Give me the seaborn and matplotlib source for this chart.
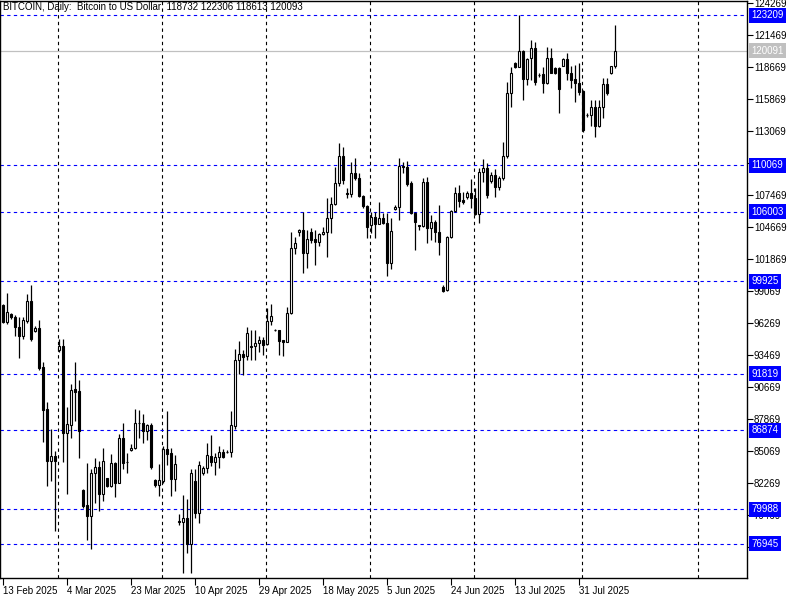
import numpy as np
import pandas as pd
import matplotlib
matplotlib.use("Agg")
import matplotlib.pyplot as plt
import seaborn as sns

# Daily candles (bar 0 = 13 Feb 2025)
opens = [97844, 96383, 97057, 96820, 95893, 95158, 96470, 98168, 95596, 95832,
         92393, 88744, 84220, 84632, 93907, 94257, 86618, 87371, 90494, 90319,
         81657, 80318, 79409, 83118, 83643, 81333, 82677, 82033, 84020, 82296,
         86180, 84131, 85130, 85306, 87494, 87494, 86845, 87318, 82532, 82120,
         82471, 85218, 84868, 82646, 78880, 78880, 79177, 76932, 82418, 79620,
         83118, 83556, 84658, 84131, 84516, 85007, 84980, 84955, 87283, 93032,
         93557, 93408, 94300, 94283, 94493, 94782, 94432, 96470, 95700, 95657,
         94782, 94633, 97118, 102806, 104205, 104407, 102421, 104258, 103620, 103331,
         104030, 104205, 105431, 106682, 108493, 110882, 107630, 107530, 109368, 108930,
         107408, 106507, 104845, 105518, 104932, 105431, 104993, 101546, 106218, 106393,
         110007, 109893, 108493, 105920, 104800, 104780, 108581, 104556, 105080, 104258,
         99395, 99157, 103768, 106070, 107618, 107032, 107268, 107618, 107180, 105780,
         109456, 109806, 108720, 109220, 108143, 108930, 110882, 116421, 118993, 118696,
         120069, 117593, 119430, 120306, 117970, 118030, 117243, 119430, 118556, 118556,
         118783, 119343, 118118, 117593, 117296, 116595, 114470, 114470, 115143, 113507,
         115143, 117182, 118118, 118732]
highs = [97900, 98868, 97118, 96995, 96766, 96766, 98807, 99595, 96007, 96505,
         92857, 89357, 86995, 85070, 94896, 94843, 88920, 90906, 92857, 91282,
         81770, 84044, 83521, 84430, 84220, 85306, 82750, 84781, 84131, 86557,
         87494, 84868, 85682, 88718, 88657, 88307, 87432, 87494, 82650, 83932,
         85507, 88570, 85306, 84720, 79527, 81220, 80870, 83494, 83494, 84195,
         83757, 85743, 86443, 84918, 85507, 85218, 85157, 88570, 93995, 94695,
         93907, 95946, 95657, 95657, 95132, 95018, 97555, 97932, 95750, 95700,
         94800, 97695, 104258, 103821, 104465, 105955, 104407, 104556, 104407, 104118,
         104697, 107180, 107321, 109893, 111993, 111696, 108056, 110383, 110681, 109400,
         107500, 106600, 106008, 106008, 106883, 105920, 105920, 105431, 106600, 110681,
         110383, 110470, 108700, 106008, 104870, 108930, 109071, 105720, 105300, 106595,
         99600, 103850, 106160, 108196, 108344, 107758, 107800, 108843, 108056, 109806,
         110593, 110243, 109508, 109718, 109150, 112133, 117383, 118696, 119133, 123209,
         120157, 119430, 121032, 120883, 118171, 118696, 120446, 120306, 118696, 118696,
         119430, 119921, 118757, 118844, 118993, 116650, 114618, 115782, 115782, 115782,
         117681, 117681, 118800, 122306]
lows = [96300, 96182, 96594, 95132, 93233, 94896, 96296, 94720, 95456, 92157,
        85884, 82007, 82444, 78096, 93758, 84096, 81333, 86232, 87695, 84484,
        80110, 77282, 76521, 80546, 79819, 80721, 81950, 81945, 81071, 82270,
        83469, 83118, 85100, 85270, 86232, 85743, 86032, 83494, 81945, 81132,
        82296, 83844, 81132, 81596, 78595, 74366, 76171, 74420, 79233, 78796,
        82970, 83118, 83783, 82995, 83556, 84457, 84870, 84570, 86968, 91780,
        91720, 93032, 93032, 93032, 93758, 93469, 94345, 96095, 95600, 93444,
        93350, 94600, 97030, 102307, 103882, 100670, 101055, 103243, 101345, 103007,
        104000, 102070, 104170, 106600, 108257, 108432, 107180, 107321, 108800, 107321,
        106306, 103681, 104118, 103681, 104900, 104900, 100382, 100968, 106150, 105282,
        109368, 108300, 105800, 102657, 104407, 104643, 103296, 103532, 103383, 102219,
        98970, 99100, 103680, 106000, 106446, 106682, 107150, 106306, 105700, 105045,
        108581, 107180, 108500, 107321, 107950, 108800, 110707, 115196, 118556, 118650,
        115782, 117095, 117532, 117095, 117768, 116368, 117182, 118150, 118100, 114671,
        118750, 117532, 116806, 115633, 116220, 113008, 114320, 113507, 112571, 113450,
        114180, 116220, 118050, 118613]
closes = [96383, 97206, 96820, 95893, 95158, 96505, 98168, 94870, 95832, 92332,
          88684, 84220, 84632, 84168, 94257, 86618, 87432, 90407, 90232, 86845,
          80257, 79409, 83118, 83643, 81333, 84168, 82033, 83993, 82296, 86180,
          84044, 84080, 85306, 87494, 87520, 86845, 87318, 83696, 82120, 82532,
          85218, 84832, 82646, 83932, 78930, 79177, 76932, 83170, 79620, 83818,
          83556, 84720, 84131, 84516, 85007, 84570, 84950, 87318, 93032, 93557,
          93325, 95368, 94150, 94493, 94782, 94345, 96470, 96908, 95630, 94723,
          94607, 97118, 102806, 103243, 104407, 102421, 103593, 103532, 103331, 104030,
          104205, 105431, 106682, 108493, 110882, 108782, 107580, 109368, 108930, 107408,
          106507, 104643, 105518, 104932, 105431, 104993, 101546, 104320, 106393, 110007,
          109950, 108432, 105920, 105133, 104780, 108581, 104556, 105080, 104258, 103331,
          99098, 103768, 106070, 107618, 106945, 106830, 107618, 107180, 105780, 109456,
          109806, 107470, 109220, 108143, 108930, 110882, 116421, 118118, 118696, 120069,
          117593, 119343, 120306, 117383, 117940, 117243, 119430, 118171, 118171, 116718,
          119343, 118118, 117532, 117296, 116508, 113157, 114500, 115143, 113507, 115143,
          117182, 116421, 118757, 120093]

date_labels = ["13 Feb 2025", "4 Mar 2025", "23 Mar 2025", "10 Apr 2025", "29 Apr 2025",
               "18 May 2025", "5 Jun 2025", "24 Jun 2025", "13 Jul 2025", "31 Jul 2025"]
date_label_bars = [0, 16, 32, 48, 64, 80, 96, 112, 128, 144]
month_start_bars = [14, 40, 66, 92, 118, 145, 174]
price_ticks = [124269, 121469, 118669, 115869, 113069, 110269, 107469, 104669, 101869,
               99069, 96269, 93469, 90669, 87869, 85069, 82269, 79469, 76669]
# tick labels that sit fully under a level box in the reference
hidden_ticks = [110269, 76669]
levels = [123209, 110069, 106003, 99925, 91819, 86874, 79988, 76945]
bid = 120091
title = "BITCOIN, Daily:  Bitcoin to US Dollar  118732 122306 118613 120093"

df = pd.DataFrame({"open": opens, "high": highs, "low": lows, "close": closes})
df["bar"] = np.arange(len(df))
df["up"] = df["close"] >= df["open"]
df["body_low"] = df[["open", "close"]].min(axis=1)
df["body_h"] = (df["close"] - df["open"]).abs().clip(lower=25)

sns.set_style("white")
plt.rcParams["font.family"] = ["Liberation Sans", "DejaVu Sans"]

fig = plt.figure(figsize=(8, 6), dpi=100)
ax = fig.add_axes([0, 22 / 600, 747 / 800, 577 / 600])

# grid: monthly verticals and level lines
for m in month_start_bars:
    ax.axvline(m - 0.25, color="black", lw=0.8, ls=(0, (3, 3)), zorder=1)
for lv in levels:
    ax.axhline(lv, color="#0000FF", lw=0.8, ls=(0, (3, 3)), zorder=1)
ax.axhline(bid, color="#C0C0C0", lw=0.9, zorder=1)

# candles
ax.vlines(df["bar"], df["low"], df["high"], color="black", lw=0.9, zorder=2)
ax.bar(df["bar"], df["body_h"], bottom=df["body_low"], width=0.6,
       color=np.where(df["up"], "white", "black"), edgecolor="black",
       linewidth=0.8, zorder=3)

ax.set_xlim(-0.75, 186)
ax.set_ylim(73957, 124444)

ax.yaxis.tick_right()
ax.set_yticks(price_ticks)
ax.set_yticklabels(["" if v in hidden_ticks else str(v) for v in price_ticks])
ax.tick_params(axis="y", direction="out", length=4, width=0.8, pad=1,
               labelsize=7, colors="black", right=True)
ax.set_xticks(date_label_bars)
ax.set_xticklabels(date_labels)
ax.tick_params(axis="x", direction="out", length=5, width=0.8, pad=1,
               labelsize=7, colors="black", bottom=True)
for lab in ax.get_xticklabels():
    lab.set_horizontalalignment("left")

for sp in ax.spines.values():
    sp.set_color("black")
    sp.set_linewidth(1)

# price labels on the axis
ytr = ax.get_yaxis_transform()
for lv in levels:
    ax.text(1.006, lv, str(lv), transform=ytr, ha="left", va="center", color="white",
            fontsize=7, clip_on=False, zorder=6,
            bbox=dict(boxstyle="square,pad=0.25", fc="#0000FF", ec="none"))
ax.text(1.006, bid, str(bid), transform=ytr, ha="left", va="center", color="white",
        fontsize=7, clip_on=False, zorder=6,
        bbox=dict(boxstyle="square,pad=0.25", fc="#C0C0C0", ec="none"))

ax.text(0.004, 0.998, title, transform=ax.transAxes, ha="left", va="top",
        fontsize=7, color="black", zorder=6)

fig.savefig("out.png", dpi=100)
